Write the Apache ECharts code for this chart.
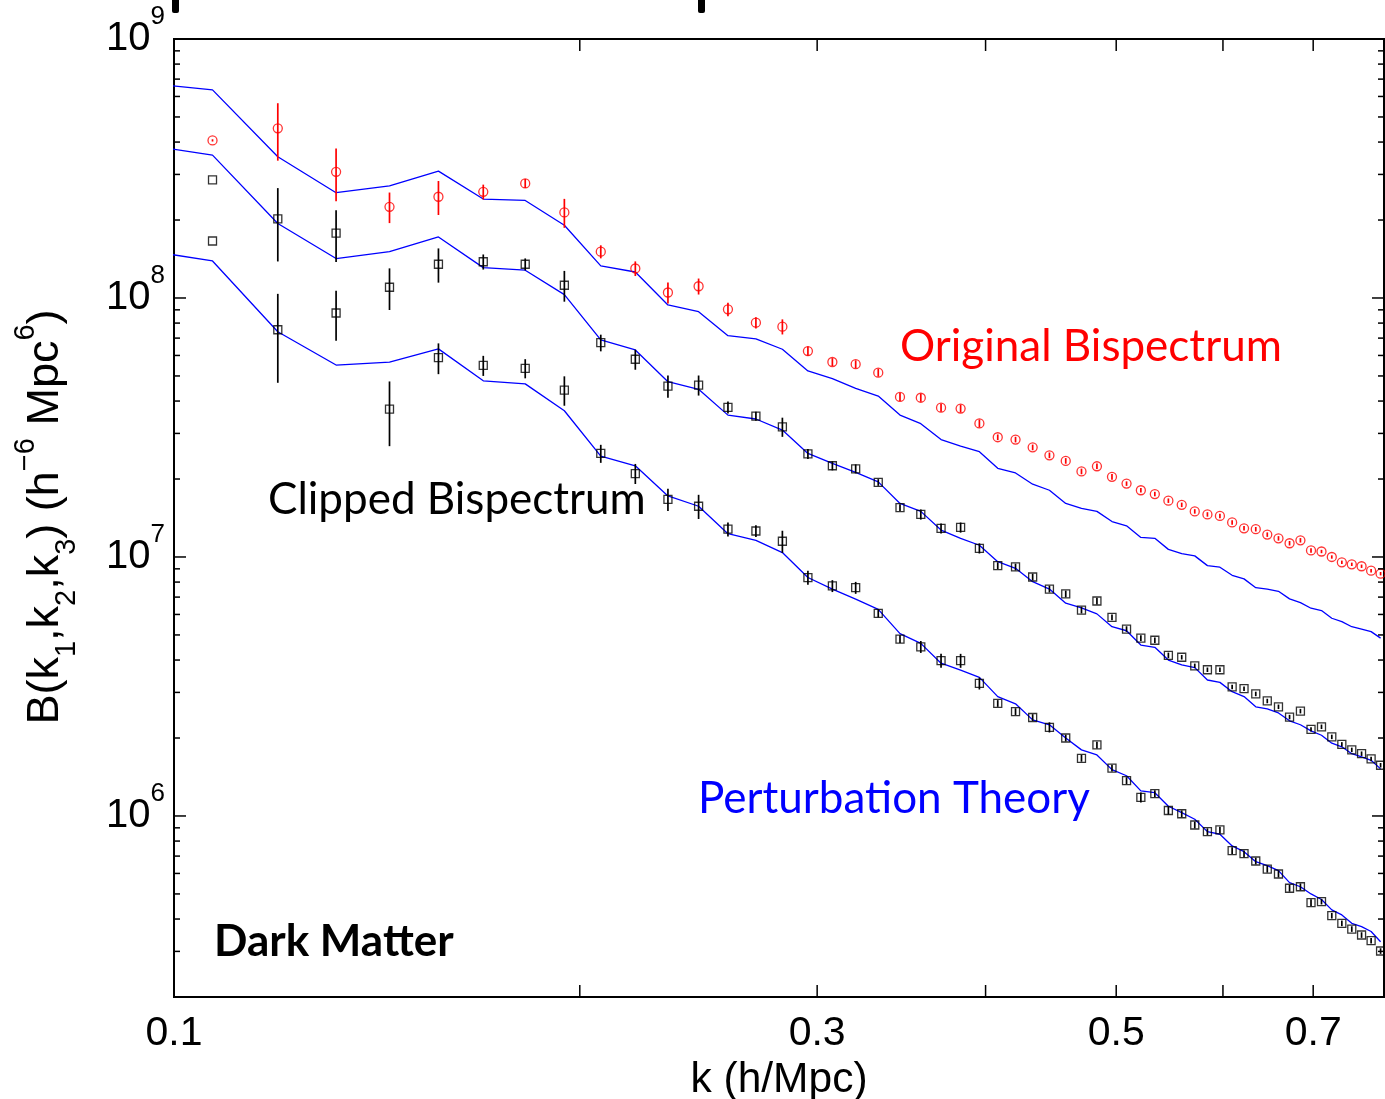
<!DOCTYPE html>
<html><head><meta charset="utf-8">
<script src="https://cdn.jsdelivr.net/npm/echarts@6/dist/echarts.min.js"></script>
<style>html,body{margin:0;padding:0;background:#fff}#c{width:1385px;height:1099px}</style>
</head><body><div id="c"></div>
<script>
// k bins (h/Mpc)
const k = [0.1068,0.1194,0.1319,0.1445,0.1571,0.1696,0.1822,0.1948,0.2073,0.2199,0.2325,0.2450,0.2576,0.2702,0.2827,0.2953,0.3079,0.3204,0.3330,0.3456,0.3581,0.3707,0.3833,0.3958,0.4084,0.4210,0.4335,0.4461,0.4587,0.4712,0.4838,0.4964,0.5089,0.5215,0.5341,0.5466,0.5592,0.5718,0.5843,0.5969,0.6095,0.6220,0.6346,0.6472,0.6597,0.6723,0.6849,0.6974,0.7100,0.7226,0.7351,0.7477,0.7603,0.7728,0.7854];
const kTheory = [0.0942,0.1068,0.1194,0.1319,0.1445,0.1571,0.1696,0.1822,0.1948,0.2073,0.2199,0.2325,0.2450,0.2576,0.2702,0.2827,0.2953,0.3079,0.3204,0.3330,0.3456,0.3581,0.3707,0.3833,0.3958,0.4084,0.4210,0.4335,0.4461,0.4587,0.4712,0.4838,0.4964,0.5089,0.5215,0.5341,0.5466,0.5592,0.5718,0.5843,0.5969,0.6095,0.6220,0.6346,0.6472,0.6597,0.6723,0.6849,0.6974,0.7100,0.7226,0.7351,0.7477,0.7603,0.7728,0.7854];

// Original bispectrum (red circles) and relative errors
const original = [4.06e8,4.52e8,3.07e8,2.25e8,2.46e8,2.57e8,2.77e8,2.14e8,1.51e8,1.30e8,1.05e8,1.11e8,
  9.04e7,8.03e7,7.75e7,6.24e7,5.66e7,5.55e7,5.15e7,4.15e7,4.12e7,3.77e7,3.74e7,3.28e7,
  2.90e7,2.84e7,2.65e7,2.47e7,2.35e7,2.14e7,2.24e7,2.04e7,1.92e7,1.81e7,1.75e7,1.65e7,
  1.59e7,1.50e7,1.46e7,1.44e7,1.36e7,1.29e7,1.28e7,1.22e7,1.18e7,1.13e7,1.16e7,1.06e7,
  1.05e7,1.00e7,9.54e6,9.37e6,9.21e6,8.85e6,8.62e6];
const originalErr = [0.01,0.25,0.23,0.135,0.15,0.066,0.04,0.128,0.058,0.065,0.094,0.071,
  0.06,0.05,0.067,0.042,0.035,0.035,0.035,0.035,0.035,0.035,0.035,0.035,
  0.025,0.025,0.025,0.025,0.025,0.025,0.025,0.025,0.02,0.02,0.02,0.02,
  0.02,0.02,0.02,0.02,0.02,0.02,0.02,0.02,0.02,0.02,0.02,0.02,
  0.015,0.015,0.015,0.015,0.015,0.015,0.015];

// Clipped bispectrum, upper set (black squares)
const clippedA = [2.86e8,2.02e8,1.78e8,1.10e8,1.35e8,1.38e8,1.35e8,1.12e8,6.72e7,5.80e7,4.57e7,4.61e7,
  3.78e7,3.50e7,3.18e7,2.50e7,2.25e7,2.19e7,1.94e7,1.55e7,1.46e7,1.29e7,1.30e7,1.08e7,
  9.26e6,9.15e6,8.37e6,7.52e6,7.20e6,6.24e6,6.76e6,5.85e6,5.27e6,4.86e6,4.77e6,4.17e6,
  4.10e6,3.80e6,3.67e6,3.67e6,3.15e6,3.10e6,2.96e6,2.78e6,2.64e6,2.41e6,2.54e6,2.16e6,
  2.21e6,2.02e6,1.89e6,1.80e6,1.74e6,1.66e6,1.57e6];
const clippedAErr = [0,0.315,0.226,0.183,0.151,0.067,0.053,0.136,0.074,0.089,0.098,0.089,
  0.053,0.04,0.085,0.045,0.04,0.04,0.03,0.03,0.045,0.045,0.045,0.045,
  0.03,0.03,0.03,0.03,0.03,0.03,0.03,0.025,0.025,0.025,0.025,0.025,
  0.02,0.02,0.02,0.02,0.02,0.02,0.02,0.02,0.02,0.02,0.02,0.02,
  0.02,0.02,0.02,0.02,0.02,0.02,0.02];

// Clipped bispectrum, lower set (black squares)
const clippedB = [1.66e8,7.54e7,8.75e7,3.72e7,5.88e7,5.49e7,5.35e7,4.41e7,2.51e7,2.10e7,1.67e7,1.57e7,
  1.28e7,1.26e7,1.15e7,8.33e6,7.73e6,7.61e6,6.06e6,4.82e6,4.50e6,3.98e6,3.98e6,3.25e6,
  2.72e6,2.53e6,2.40e6,2.20e6,2.00e6,1.67e6,1.88e6,1.53e6,1.37e6,1.18e6,1.22e6,1.05e6,
  1.02e6,9.23e5,8.70e5,8.83e5,7.35e5,7.15e5,6.70e5,6.23e5,5.97e5,5.26e5,5.33e5,4.63e5,
  4.67e5,4.12e5,3.85e5,3.66e5,3.47e5,3.30e5,3.01e5];
const clippedBErr = [0,0.376,0.218,0.28,0.136,0.089,0.085,0.13,0.08,0.089,0.098,0.107,
  0.062,0.053,0.098,0.062,0.053,0.053,0.035,0.035,0.053,0.062,0.062,0.053,
  0.03,0.03,0.03,0.045,0.03,0.03,0.03,0.03,0.03,0.045,0.03,0.035,
  0.03,0.03,0.03,0.03,0.03,0.03,0.03,0.03,0.03,0.03,0.03,0.03,
  0.025,0.025,0.025,0.025,0.025,0.025,0.025];

// Perturbation theory curves (blue)
const theoryA = [6.80e8,6.36e8,3.51e8,2.55e8,2.71e8,3.09e8,2.41e8,2.38e8,1.91e8,1.33e8,1.26e8,9.40e7,8.85e7,
  7.15e7,6.95e7,6.34e7,5.23e7,4.88e7,4.48e7,4.18e7,3.53e7,3.27e7,2.84e7,2.68e7,2.55e7,
  2.20e7,2.11e7,1.91e7,1.81e7,1.61e7,1.54e7,1.50e7,1.37e7,1.32e7,1.19e7,1.18e7,1.07e7,
  1.03e7,1.01e7,9.26e6,9.13e6,8.50e6,8.23e6,7.61e6,7.52e6,7.37e6,6.89e6,6.66e6,6.34e6,
  6.21e6,5.80e6,5.63e6,5.38e6,5.27e6,5.15e6,4.86e6];
const theoryB = [3.94e8,3.56e8,1.94e8,1.42e8,1.51e8,1.72e8,1.31e8,1.28e8,1.03e8,6.89e7,6.30e7,4.75e7,4.44e7,
  3.53e7,3.41e7,3.09e7,2.51e7,2.30e7,2.12e7,1.95e7,1.61e7,1.50e7,1.27e7,1.18e7,1.11e7,
  9.59e6,9.04e6,8.03e6,7.52e6,6.63e6,6.36e6,6.03e6,5.38e6,5.19e6,4.57e6,4.48e6,4.00e6,
  3.83e6,3.74e6,3.35e6,3.28e6,3.02e6,2.89e6,2.64e6,2.59e6,2.50e6,2.33e6,2.25e6,2.13e6,
  2.05e6,1.91e6,1.85e6,1.74e6,1.69e6,1.64e6,1.52e6];
const theoryC = [1.54e8,1.39e8,7.41e7,5.51e7,5.65e7,6.36e7,4.79e7,4.66e7,3.67e7,2.45e7,2.25e7,1.72e7,1.57e7,
  1.23e7,1.16e7,1.04e7,8.33e6,7.52e6,6.87e6,6.28e6,5.06e6,4.64e6,3.89e6,3.66e6,3.43e6,
  2.89e6,2.71e6,2.35e6,2.25e6,2.00e6,1.80e6,1.72e6,1.51e6,1.43e6,1.25e6,1.23e6,1.09e6,
  1.03e6,9.71e5,8.70e5,8.50e5,7.66e5,7.28e5,6.66e5,6.43e5,6.15e5,5.53e5,5.33e5,5.00e5,
  4.76e5,4.34e5,4.15e5,3.85e5,3.74e5,3.58e5,3.27e5];

// axes
const xMin = 0.1, xMax = 0.79, yMin = 2e5, yMax = 1e9;
const xLabelValues = [0.1, 0.3, 0.5, 0.7];
const xTickValues = [0.1, 0.2, 0.3, 0.4, 0.5, 0.6, 0.7];
const yMajorTicks = [1e6, 1e7, 1e8, 1e9];
const yMinorTicks = [3e5,4e5,5e5,6e5,7e5,8e5,9e5,
  2e6,3e6,4e6,5e6,6e6,7e6,8e6,9e6,
  2e7,3e7,4e7,5e7,6e7,7e7,8e7,9e7,
  2e8,3e8,4e8,5e8,6e8,7e8,8e8,9e8];

const AX_FONT = 'Liberation Sans, Arial, Helvetica, sans-serif';
const NOTE_FONT = 'Lato, Open Sans, sans-serif';

const chart = echarts.init(document.getElementById('c'), null, {renderer: 'canvas'});

const pts = (xs, ys) => xs.map((x, i) => [x, ys[i]]);
const errs = (xs, ys, es) => xs.map((x, i) => [x, ys[i] * (1 - es[i]), ys[i] * (1 + es[i])]);

const tickData = [];
xTickValues.forEach(v => { tickData.push([v, yMin, 0, -12]); tickData.push([v, yMax, 0, 12]); });
yMajorTicks.forEach(v => { tickData.push([xMin, v, 12, 0]); tickData.push([xMax, v, -12, 0]); });
yMinorTicks.forEach(v => { tickData.push([xMin, v, 6, 0]); tickData.push([xMax, v, -6, 0]); });

function errRender(color) {
  return function (params, api) {
    const x = api.value(0);
    const a = api.coord([x, api.value(1)]);
    const b = api.coord([x, api.value(2)]);
    return {type: 'line', shape: {x1: a[0], y1: a[1], x2: b[0], y2: b[1]},
      style: {stroke: color, lineWidth: 1.7}};
  };
}

function lineSeries(name, ys) {
  return {name, type: 'line', data: pts(kTheory, ys), symbol: 'none', showSymbol: false,
    lineStyle: {color: '#0000ff', width: 1.3}, clip: true, silent: true, z: 2};
}

const option = {
  animation: false,
  backgroundColor: '#ffffff',
  grid: {left: 174, top: 39, width: 1210, height: 958, show: true, borderColor: '#000', borderWidth: 2,
    backgroundColor: 'transparent', containLabel: false, outerBoundsMode: 'none'},
  xAxis: {
    type: 'log', logBase: 10, min: xMin, max: xMax,
    axisLine: {show: false}, axisTick: {show: false}, splitLine: {show: false}, minorTick: {show: false},
    axisLabel: {customValues: xLabelValues, formatter: v => (+v).toFixed(1), fontSize: 41,
      fontFamily: AX_FONT, color: '#000', margin: 16},
    name: 'k (h/Mpc)', nameLocation: 'middle', nameGap: 57,
    nameTextStyle: {fontSize: 42.5, fontFamily: AX_FONT, color: '#000'}
  },
  yAxis: {
    type: 'log', logBase: 10, min: yMin, max: yMax,
    axisLine: {show: false}, axisTick: {show: false}, splitLine: {show: false}, minorTick: {show: false},
    axisLabel: {
      customValues: yMajorTicks,
      formatter: v => '{b|10}{e|' + Math.round(Math.log10(v)) + '}',
      margin: 9,
      rich: {
        b: {fontSize: 40, fontFamily: AX_FONT, color: '#000', lineHeight: 70, verticalAlign: 'middle'},
        e: {fontSize: 26, fontFamily: AX_FONT, color: '#000', lineHeight: 26, verticalAlign: 'top'}
      }
    }
  },
  series: [
    lineSeries('Perturbation Theory (original)', theoryA),
    lineSeries('Perturbation Theory (clipped 1)', theoryB),
    lineSeries('Perturbation Theory (clipped 2)', theoryC),
    {name: 'Original Bispectrum', type: 'scatter', data: pts(k, original), symbol: 'circle', symbolSize: 9,
      itemStyle: {color: 'rgba(0,0,0,0)', borderColor: '#ff0000', borderWidth: 1.3}, z: 4, silent: true},
    {name: 'Clipped Bispectrum 1', type: 'scatter', data: pts(k, clippedA), symbol: 'rect', symbolSize: 8,
      itemStyle: {color: 'rgba(0,0,0,0)', borderColor: '#000', borderWidth: 1.3}, z: 4, silent: true},
    {name: 'Clipped Bispectrum 2', type: 'scatter', data: pts(k, clippedB), symbol: 'rect', symbolSize: 8,
      itemStyle: {color: 'rgba(0,0,0,0)', borderColor: '#000', borderWidth: 1.3}, z: 4, silent: true},
    {type: 'custom', data: errs(k, original, originalErr), renderItem: errRender('#ff0000'),
      encode: {x: 0, y: [1, 2]}, z: 3, silent: true, clip: true},
    {type: 'custom', data: errs(k, clippedA, clippedAErr), renderItem: errRender('#000'),
      encode: {x: 0, y: [1, 2]}, z: 3, silent: true, clip: true},
    {type: 'custom', data: errs(k, clippedB, clippedBErr), renderItem: errRender('#000'),
      encode: {x: 0, y: [1, 2]}, z: 3, silent: true, clip: true},
    {type: 'custom', data: tickData, dimensions: ['x', 'y', 'dx', 'dy'], encode: {x: 0, y: 1},
      renderItem: function (params, api) {
        const p = api.coord([api.value(0), api.value(1)]);
        return {type: 'line', shape: {x1: p[0], y1: p[1], x2: p[0] + api.value(2), y2: p[1] + api.value(3)},
          style: {stroke: '#000', lineWidth: 1.5}};
      }, z: 5, silent: true, clip: false}
  ],
  graphic: [
    {type: 'text', x: 46, y: 517, rotation: Math.PI / 2, silent: true,
      style: {
        text: '{n|B(k}{s|1}{n|,k}{s|2}{n|,k}{s|3}{n|) (h}{p|\u22126}{n| Mpc}{p|6}{n|)}',
        align: 'center', verticalAlign: 'middle', fill: '#000',
        rich: {
          n: {fontSize: 45, fontFamily: AX_FONT, fill: '#000', lineHeight: 70, verticalAlign: 'middle'},
          s: {fontSize: 29, fontFamily: AX_FONT, fill: '#000', lineHeight: 20, verticalAlign: 'bottom'},
          p: {fontSize: 29, fontFamily: AX_FONT, fill: '#000', lineHeight: 36, verticalAlign: 'top'}
        }
      }},
    {type: 'text', x: 900, y: 347, silent: true,
      style: {text: 'Original Bispectrum', fill: '#ff0000', font: '44px ' + NOTE_FONT, align: 'left', verticalAlign: 'middle'}},
    {type: 'text', x: 268, y: 500, silent: true,
      style: {text: 'Clipped Bispectrum', fill: '#000', font: '44px ' + NOTE_FONT, align: 'left', verticalAlign: 'middle'}},
    {type: 'text', x: 698, y: 799, silent: true,
      style: {text: 'Perturbation Theory', fill: '#0000ff', font: '44px ' + NOTE_FONT, align: 'left', verticalAlign: 'middle'}},
    {type: 'text', x: 214, y: 942, silent: true,
      style: {text: 'Dark Matter', fill: '#000', font: 'bold 44px ' + NOTE_FONT, align: 'left', verticalAlign: 'middle'}},
    {type: 'rect', shape: {x: 172, y: -4, width: 7, height: 17, r: 2}, style: {fill: '#000'}, silent: true},
    {type: 'rect', shape: {x: 698, y: -4, width: 7, height: 17, r: 2}, style: {fill: '#000'}, silent: true}
  ]
};
chart.setOption(option);
</script>
</body></html>
